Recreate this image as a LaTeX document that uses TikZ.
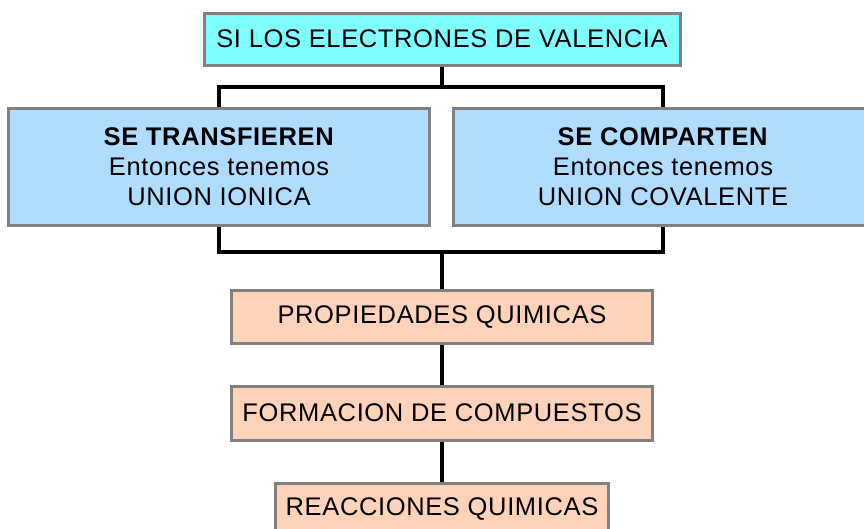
\documentclass[tikz,border=0pt]{standalone}
\usepackage{fontspec}
\setmainfont[LetterSpace=2.5]{Liberation Sans}
\definecolor{topcyan}{HTML}{80FFFF}
\definecolor{boxblue}{HTML}{B0DCFF}
\definecolor{boxsalmon}{HTML}{FFD3BA}
\definecolor{boxgray}{HTML}{808080}
\tikzset{
  box/.style={draw=boxgray, line width=3pt, inner sep=0pt, align=center,
    font=\fontsize{25.5}{30}\selectfont},
  link/.style={line width=4pt, black}
}
\begin{document}
\begin{tikzpicture}[x=1pt, y=-1pt]
      % Fix the frame to the size of the page
      \useasboundingbox (0,0) rectangle (864,528);
      \clip (0,0) rectangle (864,528);

      % Top box and the two cases
      \node[box, fill=topcyan, minimum width=476pt, minimum height=52pt] (valencia) at (442,39) {SI LOS ELECTRONES DE VALENCIA};
      \node[box, fill=boxblue, minimum width=421pt, minimum height=117pt] (ionica) at (219,166.5)
          {\textbf{SE TRANSFIEREN}\\Entonces tenemos\\UNION IONICA};
      \node[box, fill=boxblue, minimum width=420pt, minimum height=117pt] (covalente) at (663,166.5)
          {\textbf{SE COMPARTEN}\\Entonces tenemos\\UNION COVALENTE};

      % The chain below
      \node[box, fill=boxsalmon, minimum width=421pt, minimum height=53pt] (propiedades) at (442,316.5) {PROPIEDADES QUIMICAS};
      \node[box, fill=boxsalmon, minimum width=421pt, minimum height=54pt] (formacion) at (442,413) {FORMACION DE COMPUESTOS};
      \node[box, fill=boxsalmon, minimum width=333pt, minimum height=52pt] (reacciones) at (442,509) {REACCIONES QUIMICAS};

      % Connectors
      \coordinate (split) at (442,87);
      \coordinate (join) at (442,252);
      \draw[link] (valencia.south) -- (split);
      \draw[link] (ionica.north) |- (split) -| (covalente.north);
      \draw[link] (ionica.south) |- (join) -| (covalente.south);
      \draw[link] (join) -- (propiedades.north);
      \draw[link] (propiedades.south) -- (formacion.north);
      \draw[link] (formacion.south) -- (reacciones.north);
    \end{tikzpicture}
\end{document}
